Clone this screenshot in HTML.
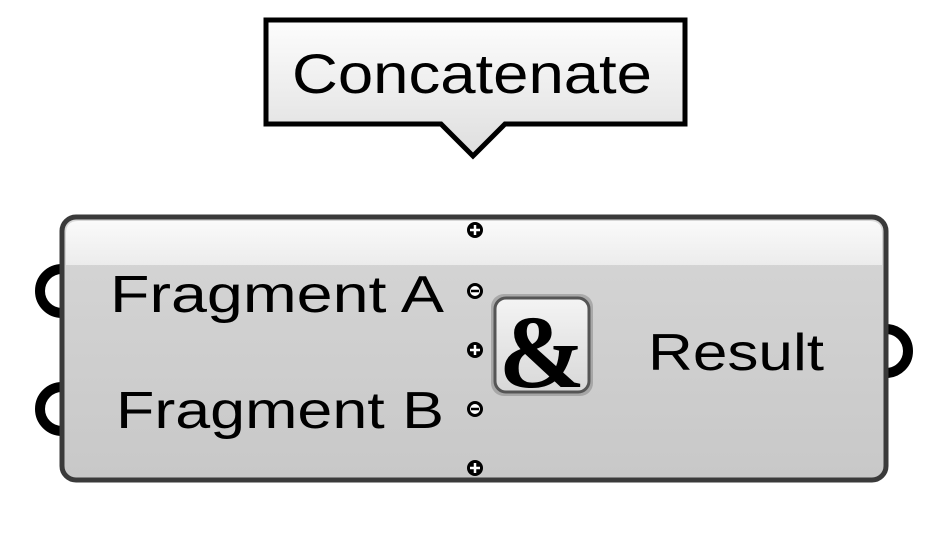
<!DOCTYPE html>
<html><head><meta charset="utf-8"><style>html,body{margin:0;padding:0;background:#fff}svg{display:block}</style></head>
<body>
<svg width="948" height="537" viewBox="0 0 948 537" xmlns="http://www.w3.org/2000/svg" font-family="Liberation Sans, DejaVu Sans, sans-serif">
<defs>
<linearGradient id="tg" x1="0" y1="0" x2="0" y2="1"><stop offset="0" stop-color="#fdfdfd"/><stop offset="1" stop-color="#dedede"/></linearGradient>
<linearGradient id="bg" x1="0" y1="0" x2="0" y2="1"><stop offset="0" stop-color="#d6d6d6"/><stop offset="1" stop-color="#c8c8c8"/></linearGradient>
<linearGradient id="hg" x1="0" y1="0" x2="0" y2="1"><stop offset="0" stop-color="#fafafa"/><stop offset="1" stop-color="#ececec"/></linearGradient>
<linearGradient id="ig" x1="0" y1="0" x2="0" y2="1"><stop offset="0" stop-color="#f4f4f4"/><stop offset="1" stop-color="#d8d8d8"/></linearGradient>
</defs>
<path d="M266,20 H685 V124 H505 L473,156 L441,124 H266 Z" fill="url(#tg)" stroke="#000" stroke-width="5" stroke-linejoin="miter"/>
<text x="292" y="93" font-size="56" textLength="360" lengthAdjust="spacingAndGlyphs">Concatenate</text>
<path d="M62,269 A22,22 0 0 0 62,313" fill="none" stroke="#000" stroke-width="10"/>
<path d="M62,387 A22,22 0 0 0 62,431" fill="none" stroke="#000" stroke-width="10"/>
<path d="M886,329 A22,22 0 0 1 886,373" fill="none" stroke="#000" stroke-width="10"/>
<rect x="62" y="217" width="824" height="263" rx="14" fill="url(#bg)" stroke="#3a3a3a" stroke-width="5"/>
<path d="M66,265 V233 Q66,221 78,221 H870 Q882,221 882,233 V265 Z" fill="url(#hg)"/>
<text x="110" y="312" font-size="52" textLength="334" lengthAdjust="spacingAndGlyphs">Fragment A</text>
<text x="116" y="428" font-size="52" textLength="328" lengthAdjust="spacingAndGlyphs">Fragment B</text>
<text x="648" y="370" font-size="52" textLength="176" lengthAdjust="spacingAndGlyphs">Result</text>
<rect x="491" y="294" width="102" height="102" rx="13" fill="#777" opacity="0.45"/>
<rect x="495" y="298" width="94" height="94" rx="11" fill="url(#ig)" stroke="#555" stroke-width="3"/>
<text x="542" y="387" font-size="104" font-weight="bold" font-family="Liberation Serif, serif" text-anchor="middle" fill="#000">&amp;</text>
<g>
<circle cx="475" cy="230" r="8" fill="#000"/><path d="M470,230h10M475,225v10" stroke="#fff" stroke-width="2.5"/>
<circle cx="475" cy="291" r="8" fill="#000"/><circle cx="475" cy="291" r="5" fill="#fff"/><path d="M471,291h8" stroke="#000" stroke-width="2.5"/>
<circle cx="475" cy="350" r="8" fill="#000"/><path d="M470,350h10M475,345v10" stroke="#fff" stroke-width="2.5"/>
<circle cx="475" cy="409" r="8" fill="#000"/><circle cx="475" cy="409" r="5" fill="#fff"/><path d="M471,409h8" stroke="#000" stroke-width="2.5"/>
<circle cx="475" cy="468" r="8" fill="#000"/><path d="M470,468h10M475,463v10" stroke="#fff" stroke-width="2.5"/>
</g>
</svg>
</body></html>
